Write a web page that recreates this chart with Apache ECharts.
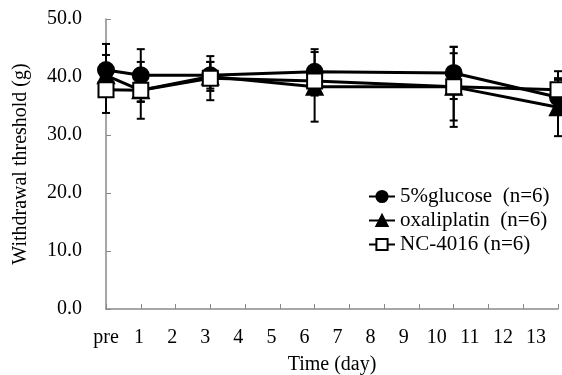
<!DOCTYPE html>
<html><head><meta charset="utf-8">
<script src="https://cdn.jsdelivr.net/npm/echarts@6/dist/echarts.min.js"></script>
<style>html,body{margin:0;padding:0;background:#fff}#c{width:562px;height:375px}</style>
</head><body><div id="c"></div>
<script>
// ---- data ----
const days = [0, 1, 3, 6, 10, 13];
const tickLabels = ['pre','1','2','3','4','5','6','7','8','9','10','11','12','13'];
const glucose   = [41.2, 40.3, 40.3, 40.9, 40.7, 36.5];
const glucoseSd = [4.5, 4.5, 2.3, 3.9, 4.5, 3.0];
const oxali     = [40.3, 37.7, 40.1, 38.3, 38.3, 34.8];
const oxaliSd   = [3.5, 4.9, 2.5, 6.0, 6.9, 5.0];
const nc        = [37.8, 37.7, 39.8, 39.3, 38.3, 37.8];
const ncSd      = [4.0, 2.0, 3.8, 2.5, 5.8, 3.2];
const names = ['5%glucose  (n=6)', 'oxaliplatin  (n=6)', 'NC-4016 (n=6)'];

const FONT = '"Liberation Serif","Times New Roman",serif';
const FS = 20;
const chart = echarts.init(document.getElementById('c'), null, {renderer:'canvas'});

function errData(vals, sds){ return days.map((d,i)=>[d, vals[i]-sds[i], vals[i]+sds[i]]); }
function errSeries(vals, sds){
  return {
    type:'custom', xAxisIndex:0, yAxisIndex:0, z:1, silent:true,
    data: errData(vals, sds),
    renderItem(params, api){
      const lo = api.coord([api.value(0), api.value(1)]);
      const hi = api.coord([api.value(0), api.value(2)]);
      const w = 4;
      const st = {stroke:'#000', lineWidth:2};
      return {type:'group', children:[
        {type:'line', shape:{x1:lo[0],y1:lo[1],x2:hi[0],y2:hi[1]}, style:st},
        {type:'line', shape:{x1:lo[0]-w,y1:lo[1],x2:lo[0]+w,y2:lo[1]}, style:st},
        {type:'line', shape:{x1:hi[0]-w,y1:hi[1],x2:hi[0]+w,y2:hi[1]}, style:st}
      ]};
    }
  };
}
function lineSeries(name, vals, symbol, fill, size){
  return {
    name, type:'line', xAxisIndex:0, yAxisIndex:0, z:3,
    data: days.map((d,i)=>[d, vals[i]]),
    symbol, symbolSize:size, showAllSymbol:true,
    lineStyle:{color:'#000', width:3},
    itemStyle:{color:fill, borderColor:'#000', borderWidth:2},
    animation:false
  };
}

chart.setOption({
  animation:false,
  backgroundColor:'#fff',
  grid:[
    {left:106, right:4, top:19, bottom:66, containLabel:false, outerBoundsMode:'none'},
    {left:106, right:26, top:19, bottom:66, containLabel:false, outerBoundsMode:'none'}
  ],
  xAxis:[
    {type:'value', gridIndex:0, min:0, max:13, interval:1,
     axisLine:{lineStyle:{color:'#8a8a8a', width:1.5}},
     axisTick:{inside:true, length:5, lineStyle:{color:'#8a8a8a'}},
     axisLabel:{show:false}, splitLine:{show:false},
     name:'Time (day)', nameLocation:'middle', nameGap:46,
     nameTextStyle:{fontFamily:FONT, fontSize:FS, color:'#000'}},
    {type:'category', gridIndex:1, data:tickLabels, boundaryGap:false,
     axisLine:{show:false}, axisTick:{show:false}, splitLine:{show:false},
     axisLabel:{margin:19, fontFamily:FONT, fontSize:FS, color:'#000', interval:0}}
  ],
  yAxis:[
    {type:'value', gridIndex:0, min:0, max:50, interval:10,
     axisLine:{show:true, lineStyle:{color:'#8a8a8a', width:1.5}},
     axisTick:{show:true, inside:true, length:5, lineStyle:{color:'#8a8a8a'}},
     splitLine:{show:false},
     axisLabel:{margin:24, fontFamily:FONT, fontSize:FS, color:'#000', formatter:v=>v.toFixed(1)},
     name:'Withdrawal threshold (g)', nameLocation:'middle', nameGap:75, nameRotate:90,
     nameTextStyle:{fontFamily:FONT, fontSize:FS, color:'#000'}},
    {type:'value', gridIndex:1, show:false}
  ],
  legend:{
    left:363, top:181, orient:'vertical', itemGap:3, itemWidth:26, itemHeight:14,
    textStyle:{fontFamily:FONT, fontSize:21, color:'#000'},
    data: names
  },
  series:[
    errSeries(glucose, glucoseSd),
    errSeries(oxali, oxaliSd),
    errSeries(nc, ncSd),
    lineSeries(names[0], glucose, 'circle', '#000', 16),
    lineSeries(names[1], oxali, 'triangle', '#000', 16),
    lineSeries(names[2], nc, 'rect', '#fff', 15)
  ]
});
</script></body></html>
